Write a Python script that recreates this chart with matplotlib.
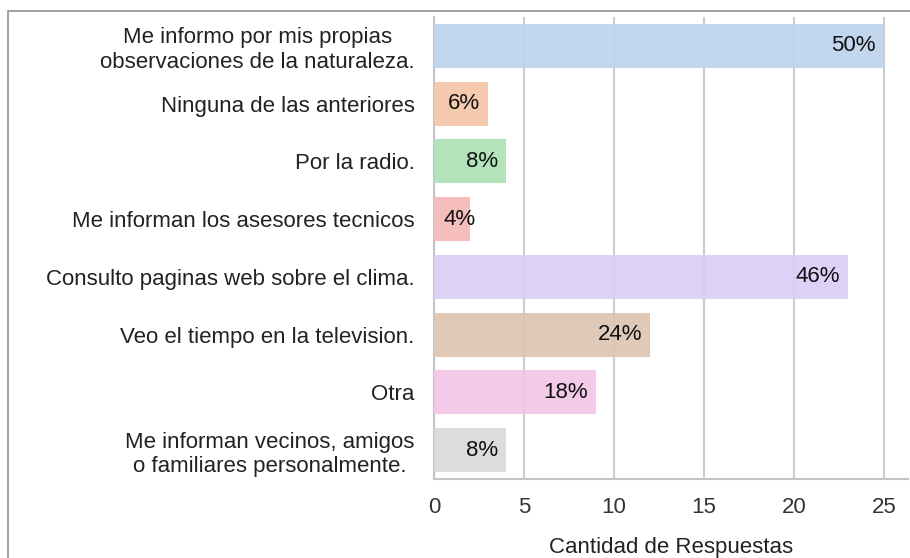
import matplotlib
matplotlib.use("Agg")
import matplotlib.pyplot as plt
from matplotlib.patches import Rectangle
from matplotlib import transforms

plt.rcParams['font.family'] = ['Liberation Sans', 'DejaVu Sans']

categories = [
    "Me informo por mis propias\nobservaciones de la naturaleza.",
    "Ninguna de las anteriores",
    "Por la radio.",
    "Me informan los asesores tecnicos",
    "Consulto paginas web sobre el clima.",
    "Veo el tiempo en la television.",
    "Otra",
    "Me informan vecinos, amigos\no familiares personalmente.",
]
values = [25, 3, 4, 2, 23, 12, 9, 4]
percent_labels = ["50%", "6%", "8%", "4%", "46%", "24%", "18%", "8%"]
colors = ["#bdd3ec", "#f4c5a6", "#aee0b6", "#f5b9b7", "#dacdf5", "#dfc5b2", "#f2c6e6", "#d9d9d9"]
x_ticks = [0, 5, 10, 15, 20, 25]
x_label = "Cantidad de Respuestas"

W, H = 910, 558
FS = 16
fig = plt.figure(figsize=(W / 100, H / 100), dpi=100)

# outer frame
fig.patches.append(Rectangle((8 / W, -0.1), 1.2, 1 - 11 / H + 0.1, transform=fig.transFigure,
                             fill=False, edgecolor="#9a9a9a", linewidth=1.3, zorder=0))

ax = fig.add_axes([434 / W, 1 - 479 / H, (908 - 434) / W, (479 - 17) / H])
ypos = list(range(len(categories)))
ax.barh(ypos, values, height=0.76, color=colors, alpha=0.92, zorder=3)
ax.set_xlim(0, (908 - 434) / 18)
ax.set_ylim(len(categories) - 0.5, -0.5)
ax.set_xticks(x_ticks)
ax.set_xticklabels([str(t) for t in x_ticks], fontsize=FS, color="#333333")
ax.set_yticks(ypos)
ax.set_yticklabels(categories, fontsize=FS, color="#222222", multialignment="center",
                   linespacing=1.2)
ax.tick_params(axis="y", length=0, pad=14)
ax.tick_params(axis="x", length=0, pad=13)
ax.grid(axis="x", color="#cccccc", linewidth=1.5, zorder=1)
ax.set_axisbelow(True)
for s in ["top", "right"]:
    ax.spines[s].set_visible(False)
ax.spines["left"].set_color("#c4c4c4")
ax.spines["left"].set_linewidth(1.5)
ax.spines["bottom"].set_color("#c4c4c4")
ax.spines["bottom"].set_linewidth(1.5)
ax.set_xlabel(x_label, fontsize=FS, color="#222222", labelpad=14)

px = 18.0  # pixels per unit
for y, v, lab in zip(ypos, values, percent_labels):
    if v * px > 45:
        tr = ax.transData + transforms.ScaledTranslation(-8 / 100, 0, fig.dpi_scale_trans)
        ax.text(v, y, lab, ha="right", va="center", fontsize=FS, color="#111111",
                transform=tr, zorder=5)
    else:
        tr = ax.transData + transforms.ScaledTranslation(9 / 100, 0, fig.dpi_scale_trans)
        ax.text(0, y, lab, ha="left", va="center", fontsize=FS, color="#111111",
                transform=tr, zorder=5)

fig.savefig("out.png", dpi=100)
